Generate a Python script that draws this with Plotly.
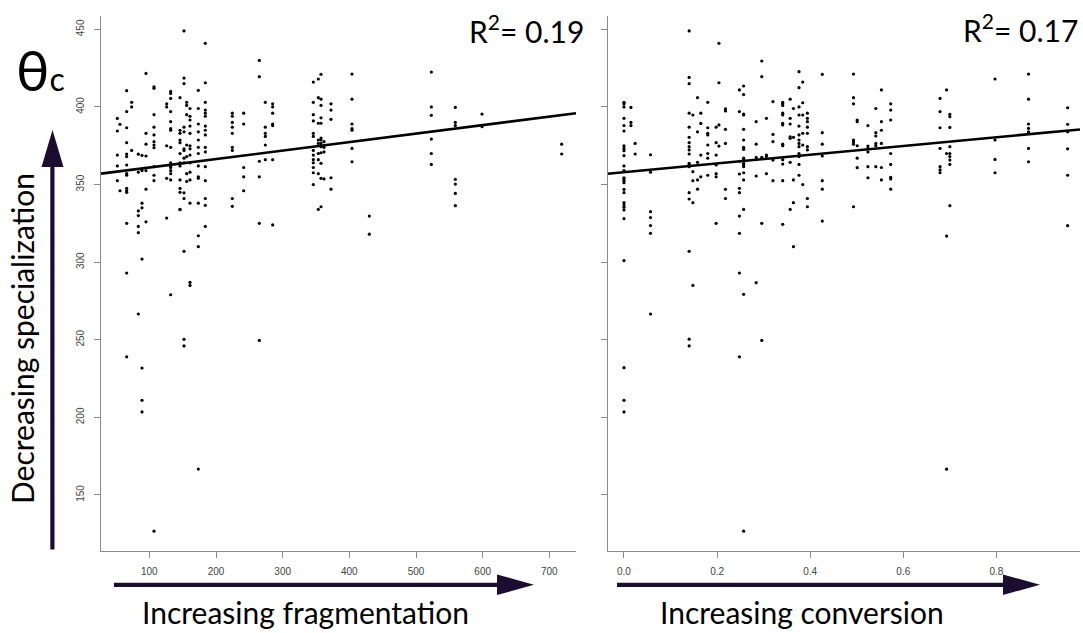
import plotly.graph_objects as go

W, H = 1083, 633

# ---------------- data ----------------
frag_cols = [52, 56, 66, 73.5, 83.5, 89, 95, 107, 126, 132, 146, 152, 156, 161,
             173.5, 184, 224.5, 241.5, 265, 274, 285, 346, 353.5, 357.5, 362,
             372.5, 404, 430, 523, 559, 599, 718.5]
frag_theta = [
    [392.6, 384.5, 369, 362, 352.5],
    [388.8, 346],
    [410.5, 397, 386.6, 377, 369.7, 368, 362.6, 357, 356, 347.5, 346, 345, 325, 293, 239],
    [403, 400, 372],
    [369.6, 358, 333, 330, 323, 319, 266.6],
    [368.8, 359, 338, 335, 302, 231.8, 211, 203.5],
    [421.6, 383, 376, 368.4, 359, 347, 326],
    [413, 412, 395, 387, 382, 377.6, 375.5, 373.7, 361.5, 356, 352.5, 126.7],
    [402, 400, 375, 354, 328.4],
    [410, 408.7, 405.5, 397, 390.5, 386, 385, 374, 364, 362, 361, 359, 357, 353, 279],
    [406, 385, 383, 378.7, 377, 370, 364, 362, 347.5, 353, 345, 334, 333.8],
    [449, 418.6, 415, 387, 384, 373, 372, 367, 364, 344.7, 341, 307, 250.3, 246],
    [403, 401, 395, 375.5, 368, 357, 352],
    [399, 394, 391.6, 387.7, 383, 375, 373, 369, 364, 358, 353, 338, 287, 285],
    [410.7, 399, 389, 384, 378.7, 374, 370, 362, 355, 354, 338, 317, 310, 166.7],
    [441, 415.6, 403, 398, 396, 394, 387.7, 385, 382, 374, 371, 361.5, 352.5, 341, 336.6, 323],
    [396, 394, 390, 387, 383, 374, 372, 341, 336],
    [396, 389, 361, 355, 346],
    [430, 419.5, 365, 355, 325, 249.6],
    [403, 387, 383, 381, 375.5, 366],
    [402, 400, 396, 389, 388, 366, 324],
    [416, 403, 395, 391, 383, 381, 372, 369, 366, 364, 361, 357.6, 350],
    [418, 406, 389.5, 378.7, 376.5, 370, 366, 357, 334],
    [421, 405, 401, 393, 389.5, 380, 378.7, 376.5, 374.4, 370.5, 363.7, 354, 335.7],
    [377.6, 374, 371, 353.6],
    [402, 398, 392, 354.4, 347],
    [421.2, 405, 389, 386, 385, 373.3, 364.7],
    [329.7, 318],
    [422.5, 400, 394.6, 379.3, 370, 363],
    [399.7, 390, 388, 353.4, 350.3, 344.3, 336.4],
    [395.4, 387.3],
    [376, 369.7],
]

conv_cols = [0.0, 0.015, 0.024, 0.057, 0.14, 0.148, 0.158, 0.165, 0.18, 0.198,
             0.204, 0.218, 0.248, 0.257, 0.284, 0.296, 0.306, 0.32, 0.341, 0.357,
             0.364, 0.376, 0.384, 0.394, 0.426, 0.493, 0.501, 0.524, 0.541, 0.553,
             0.573, 0.679, 0.693, 0.7, 0.797, 0.869, 0.953]
conv_theta = [
    [403, 402, 400, 392.7, 388, 384.5, 375, 373.3, 371.8, 368.6, 362, 359, 354.4, 353.6,
     352.5, 351.2, 346.9, 344.8, 338.3, 336.8, 335.3, 333.6, 328, 301, 232, 211, 203.5],
    [399.7, 390, 388],
    [376.5, 369.7],
    [369.2, 358, 332.5, 328.7, 323.6, 318.6, 266.6],
    [449, 419, 415, 396, 387, 380.4, 377, 374.4, 372.3, 369.7, 363.7, 362.6, 361.5,
     344.8, 340.7, 307, 250.4, 246],
    [394.8, 358.3, 352.5, 338.3, 285],
    [406, 384, 364.3, 353, 347],
    [396, 389.4, 369, 355],
    [403, 386.6, 383, 382, 375.5, 370, 367, 356],
    [387, 377, 369, 362.6, 357, 355, 325],
    [441, 415.6, 388.4, 374.8],
    [398.7, 397.4, 385.6, 376.5, 346.9, 341],
    [411, 397, 365, 356.8, 347.6, 344.8, 329.7, 318.6, 293, 239],
    [413.5, 408, 395.4, 394.8, 385.6, 378.7, 374, 372.7, 367, 365.8, 363.7, 362.6,
     361.5, 357.6, 353, 334, 279.3, 126.7],
    [390.5, 376, 367.5, 366.2, 355.5, 286.8],
    [429.6, 419.5, 367.5, 325, 249.6],
    [392.7, 369, 368, 357],
    [403.4, 382.3, 377.6, 365.8, 352.5],
    [403, 402, 401, 396, 394.8, 389.4, 388.4, 376, 375, 366, 363.2, 352.5, 324.4],
    [405, 392.7, 389, 380.8, 379.8, 364.3, 334],
    [399, 380.4, 353, 338.3, 310],
    [422.7, 412.4, 400, 394.8, 387.7, 382, 378.7, 376.5, 374.4, 370, 368, 363, 356],
    [416, 402.7, 394.8, 383, 375.5, 350],
    [396, 392.7, 390.5, 387, 383, 374.4, 372.3, 341, 335.7],
    [421, 383.4, 376, 368.4, 352.5, 347, 326.5],
    [421.2, 406, 402, 378.7, 377.6, 376, 335.7],
    [391.6, 390.5, 375, 367, 360.9],
    [388, 374.8, 373.3, 371, 361.5, 354.4],
    [399, 383.4, 381.3, 376.5, 375, 361.5],
    [411, 390.5, 385, 376.5, 361, 353],
    [402, 398, 391.6, 370, 363, 354.6, 353.6, 347],
    [405.5, 397, 386.6, 373.3, 361.5, 359.4, 357.6],
    [411, 370, 316.8, 166.6],
    [395.2, 393.7, 386.8, 374.4, 370, 368, 365.8, 363, 336.4],
    [418, 378.7, 366.2, 357.6],
    [421.2, 405, 389, 386.2, 384, 373.3, 364.7],
    [399.5, 388.8, 384, 373, 356, 323.5],
]

# linear fits (intercept, slope) and R^2 labels
frag_fit = (355.5, 0.0547)
conv_fit = (358.0, 28.1)
frag_r2 = "0.19"
conv_r2 = "0.17"

frag_ticks = [100, 200, 300, 400, 500, 600, 700]
theta_ticks = [150, 200, 250, 300, 350, 400, 450]
conv_ticks = [0.0, 0.2, 0.4, 0.6, 0.8]

frag_range = [27.5, 740]
conv_range = [-0.0354, 0.9796]
theta_range = [113.9, 458.6]

# ---------------- figure ----------------
def flat(cols, vals):
    xs, ys = [], []
    for c, v in zip(cols, vals):
        for t in v:
            xs.append(c)
            ys.append(t)
    return xs, ys

fx, fy = flat(frag_cols, frag_theta)
cx, cy = flat(conv_cols, conv_theta)

fig = go.Figure()
dot = dict(color="black", size=3.2, line=dict(width=0))
fig.add_trace(go.Scatter(x=fx, y=fy, mode="markers", marker=dot, xaxis="x", yaxis="y"))
fig.add_trace(go.Scatter(x=cx, y=cy, mode="markers", marker=dot, xaxis="x2", yaxis="y2"))

fl = [frag_range[0], frag_range[1]]
fig.add_trace(go.Scatter(x=fl, y=[frag_fit[0] + frag_fit[1] * v for v in fl], mode="lines",
                         line=dict(color="black", width=2.6), xaxis="x", yaxis="y"))
cl = [conv_range[0], conv_range[1]]
fig.add_trace(go.Scatter(x=cl, y=[conv_fit[0] + conv_fit[1] * v for v in cl], mode="lines",
                         line=dict(color="black", width=2.6), xaxis="x2", yaxis="y2"))

def px(x):
    return x / W

def py(y):
    return 1 - y / H

axis_col = "#8a8a8a"
tickfont = dict(family="Liberation Sans, Arial, sans-serif", size=10, color="#444444")
common = dict(showgrid=False, zeroline=False, showline=True, linecolor=axis_col, linewidth=1,
              ticks="outside", ticklen=6, tickcolor=axis_col, tickwidth=1, tickfont=tickfont)

fig.update_layout(
    width=W, height=H, margin=dict(l=0, r=0, t=0, b=0),
    paper_bgcolor="white", plot_bgcolor="white", showlegend=False,
    xaxis=dict(domain=[px(101), px(576)], range=frag_range, tickvals=frag_ticks,
               anchor="y", ticklabelstandoff=5, **common),
    yaxis=dict(domain=[py(551), py(16)], range=theta_range, tickvals=theta_ticks,
               anchor="x", tickangle=-90, ticklabelstandoff=6, **common),
    xaxis2=dict(domain=[px(607.5), px(1080)], range=conv_range, tickvals=conv_ticks,
                tickformat=".1f", anchor="y2", ticklabelstandoff=5, **common),
    yaxis2=dict(domain=[py(551), py(16)], range=theta_range, tickvals=theta_ticks,
                anchor="x2", showticklabels=False, **common),
)

arrow_col = "#1c0c30"
shapes = []
def rect(x0, y0, x1, y1):
    shapes.append(dict(type="rect", xref="paper", yref="paper", x0=px(x0), x1=px(x1),
                       y0=py(y1), y1=py(y0), fillcolor=arrow_col, line=dict(width=0)))
def tri(pts):
    d = "M " + " L ".join(f"{px(a):.5f},{py(b):.5f}" for a, b in pts) + " Z"
    shapes.append(dict(type="path", xref="paper", yref="paper", path=d,
                       fillcolor=arrow_col, line=dict(width=0)))

rect(50.3, 164, 54.5, 549.5)
tri([(41.5, 167), (63.5, 167), (52.5, 130)])
rect(114, 582.8, 499, 587)
tri([(497, 574.5), (497, 595), (534, 584.8)])
rect(617, 582.8, 1005, 587)
tri([(1003, 574.5), (1003, 595), (1040, 584.8)])
fig.update_layout(shapes=shapes)

lab_font = dict(family="Lato, Open Sans, sans-serif", size=30, color="black")
ann = []
ann.append(dict(x=px(22), y=py(339), text="Decreasing specialization", textangle=-90,
                showarrow=False, xanchor="center", yanchor="middle", font=lab_font))
ann.append(dict(x=px(305), y=py(612), text="Increasing fragmentation",
                showarrow=False, xanchor="center", yanchor="middle", font=lab_font))
ann.append(dict(x=px(802), y=py(612), text="Increasing conversion",
                showarrow=False, xanchor="center", yanchor="middle", font=lab_font))
ann.append(dict(x=px(586), y=py(29), text="R<sup>2</sup>= " + frag_r2,
                showarrow=False, xanchor="right", yanchor="middle", font=lab_font))
ann.append(dict(x=px(1080), y=py(28), text="R<sup>2</sup>= " + conv_r2,
                showarrow=False, xanchor="right", yanchor="middle", font=lab_font))
ann.append(dict(x=px(14), y=py(70), text="θ<span style='font-size:32px'>c</span>",
                showarrow=False, xanchor="left", yanchor="middle",
                font=dict(family="Lato, Open Sans, sans-serif", size=56, color="black")))
for a in ann:
    a["xref"] = "paper"
    a["yref"] = "paper"
fig.update_layout(annotations=ann)

fig.write_html("out.html", config={"displayModeBar": False},
               post_script="document.body.style.margin='0';document.body.style.overflow='hidden';")
